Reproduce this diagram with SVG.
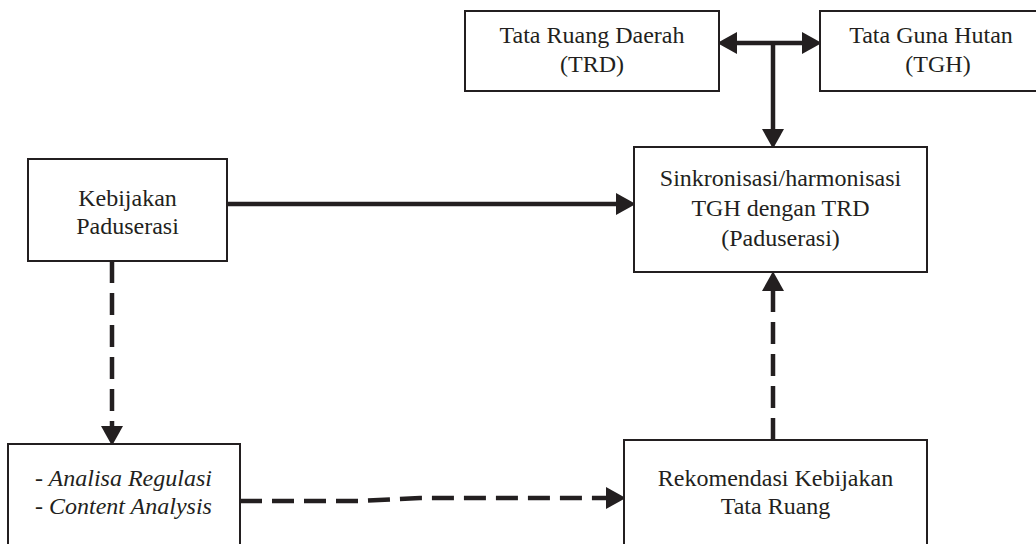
<svg xmlns="http://www.w3.org/2000/svg" width="1036" height="544" viewBox="0 0 1036 544">
<style>
.box{fill:#fff;stroke:#231f20;stroke-width:2}
.t{font-family:"Liberation Serif","Times New Roman",serif;font-size:24px;fill:#231f20;text-anchor:middle}
.i{font-style:italic;text-anchor:start}
.c{fill:none;stroke:#231f20;stroke-width:4.5}
.d{stroke-dasharray:22 10}
</style>
<defs>
<marker id="ah" markerUnits="userSpaceOnUse" markerWidth="20" markerHeight="22" refX="0" refY="10" orient="auto-start-reverse" viewBox="0 0 18 20">
<path d="M0,0 L18,10 L0,20 z" fill="#231f20"/>
</marker>
</defs>
<rect width="1036" height="544" fill="#fff"/>
<g id="connectors">
<path class="c" d="M737,43 L802,43" marker-start="url(#ah)" marker-end="url(#ah)"/>
<path class="c" d="M773,43 L773,129" marker-end="url(#ah)"/>
<path class="c" d="M227,204 L616,204" marker-end="url(#ah)"/>
<path class="c d" d="M112,261 L112,426" marker-end="url(#ah)"/>
<path class="c d" d="M240,501 L360,501 L420,498 L606,498" marker-end="url(#ah)"/>
<path class="c d" d="M773,440 L773,291" marker-end="url(#ah)"/>
</g>
<g id="trd">
<rect class="box" x="465" y="11" width="254" height="80"/>
<text class="t" x="592" y="43">Tata Ruang Daerah</text>
<text class="t" x="592" y="72">(TRD)</text>
</g>
<g id="tgh">
<rect class="box" x="820" y="11" width="240" height="80"/>
<text class="t" x="931" y="43">Tata Guna Hutan</text>
<text class="t" x="938" y="72">(TGH)</text>
</g>
<g id="kebijakan">
<rect class="box" x="28" y="159" width="199" height="102"/>
<text class="t" x="127.5" y="206">Kebijakan</text>
<text class="t" x="127.5" y="234">Paduserasi</text>
</g>
<g id="sinkronisasi">
<rect class="box" x="634" y="147" width="293" height="125"/>
<text class="t" x="780.5" y="186">Sinkronisasi/harmonisasi</text>
<text class="t" x="780.5" y="216">TGH dengan TRD</text>
<text class="t" x="780.5" y="246">(Paduserasi)</text>
</g>
<g id="analisa">
<rect class="box" x="8" y="444" width="232" height="120"/>
<text class="t i" x="35" y="486">- Analisa Regulasi</text>
<text class="t i" x="35" y="514">- Content Analysis</text>
</g>
<g id="rekomendasi">
<rect class="box" x="624" y="440" width="303" height="124"/>
<text class="t" x="775.5" y="486">Rekomendasi Kebijakan</text>
<text class="t" x="775.5" y="514">Tata Ruang</text>
</g>
</svg>
